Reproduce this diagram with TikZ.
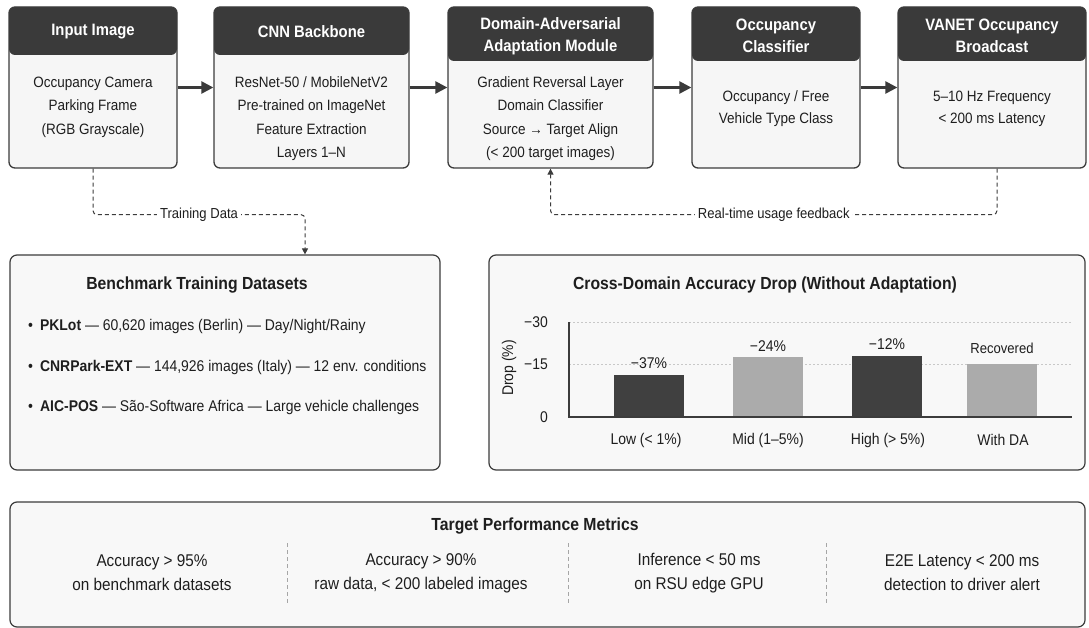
\documentclass[tikz,border=0pt]{standalone}
\usepackage{fontspec}
\setmainfont{Liberation Sans}[FakeStretch=0.9]
\usetikzlibrary{arrows.meta}
\definecolor{hdr}{HTML}{3A3A3A}
\definecolor{bodyf}{HTML}{F6F6F6}
\definecolor{bord}{HTML}{3C3C3C}
\definecolor{panelf}{HTML}{F8F8F8}
\definecolor{darkbar}{HTML}{404040}
\definecolor{lightbar}{HTML}{ABABAB}
\definecolor{gridc}{HTML}{C8C8C8}
\definecolor{txt}{HTML}{1E1E1E}
\begin{document}
\begin{tikzpicture}[x=1pt,y=-1pt,
  stage/.style={draw=bord, line width=1.3pt, fill=bodyf, rounded corners=6pt,
    minimum height=161pt, inner sep=0pt},
  hdrone/.style={path picture={\fill[hdr] (path picture bounding box.north west)
    rectangle ([yshift=-48pt]path picture bounding box.north east);}},
  hdrtwo/.style={path picture={\fill[hdr] (path picture bounding box.north west)
    rectangle ([yshift=-54pt]path picture bounding box.north east);}},
  htext/.style={text=white, align=center, inner sep=0pt,
    font=\bfseries\fontsize{16.5}{22}\selectfont},
  btext/.style={text=txt, align=center, inner sep=0pt,
    font=\fontsize{15}{23.5}\selectfont},
  flow/.style={line width=2.4pt, draw=hdr, -{Triangle[length=12pt,width=12pt]}},
  dconn/.style={line width=1pt, draw=bord, dash pattern=on 4pt off 3pt,
    rounded corners=4pt, -{Triangle[length=6pt,width=6pt]}},
  clabel/.style={fill=white, inner sep=3pt, text=txt, font=\fontsize{14.5}{16}\selectfont},
  panel/.style={draw=bord, line width=1.2pt, fill=panelf, rounded corners=7pt, inner sep=0pt},
  ttl/.style={text=txt, inner sep=0pt, font=\bfseries\fontsize{17.5}{20}\selectfont},
  bullet/.style={text=txt, anchor=west, inner sep=0pt, font=\fontsize{15.5}{18}\selectfont},
  tick/.style={text=txt, anchor=east, inner sep=0pt, font=\fontsize{15.5}{18}\selectfont},
  clab/.style={text=txt, inner sep=0pt, font=\fontsize{15.5}{18}\selectfont},
  axis/.style={line width=1.2pt, draw=bord},
  gridl/.style={line width=0.6pt, draw=gridc, dash pattern=on 2pt off 2pt},
  mtext/.style={text=txt, align=center, inner sep=0pt, font=\fontsize{17}{24}\selectfont},
  mdiv/.style={line width=0.8pt, draw=gray!70, dash pattern=on 4pt off 3pt}
]
\useasboundingbox (0,0) rectangle (1089,628);
\fill[white] (0,0) rectangle (1089,628);

% ---------- pipeline stages ----------
\node[stage, hdrone, minimum width=168pt] (b1) at (93,87.5) {};
\node[stage, hdrone, minimum width=195pt] (b2) at (311.5,87.5) {};
\node[stage, hdrtwo, minimum width=205pt] (b3) at (550.5,87.5) {};
\node[stage, hdrtwo, minimum width=168pt] (b4) at (776,87.5) {};
\node[stage, hdrtwo, minimum width=188pt] (b5) at (992,87.5) {};

\node[htext] (h1) at (93,32) {Input Image};
\node[htext] (h2) at (311.5,32) {CNN Backbone};
\node[htext] (h3) at (550.5,36) {Domain-Adversarial\\Adaptation Module};
\node[htext] (h4) at (776,36) {Occupancy\\Classifier};
\node[htext] (h5) at (992,36) {VANET Occupancy\\Broadcast};

\node[btext] (t1) at (93,107) {Occupancy Camera\\Parking Frame\\(RGB Grayscale)};
\node[btext] (t2) at (311.5,118.5) {ResNet-50 / MobileNetV2\\Pre-trained on ImageNet\\Feature Extraction\\Layers 1–N};
\node[btext] (t3) at (550.5,118.5) {Gradient Reversal Layer\\Domain Classifier\\Source → Target Align\\(< 200 target images)};
\node[btext, font=\fontsize{15}{22}\selectfont] (t4) at (776,109) {Occupancy / Free\\Vehicle Type Class};
\node[btext, font=\fontsize{15}{22}\selectfont] (t5) at (992,109) {5–10 Hz Frequency\\< 200 ms Latency};

\draw[flow] (b1) -- (b2);
\draw[flow] (b2) -- (b3);
\draw[flow] (b3) -- (b4);
\draw[flow] (b4) -- (b5);

% ---------- panels ----------
\node[panel, minimum width=430pt, minimum height=215pt] (bm) at (225,362.5) {};
\node[panel, minimum width=596pt, minimum height=215pt] (ch) at (787,362.5) {};
\node[panel, minimum width=1075pt, minimum height=125pt] (pm) at (547.5,564.5) {};

% ---------- dashed connectors ----------
\draw[dconn] (b1.south) -- ++(0,46)
  -| node[clabel, pos=0.25] (ltd) {Training Data} ([xshift=80pt]bm.north);
\draw[dconn] ([xshift=5pt]b5.south) -- ++(0,46)
  -| node[clabel, pos=0.25] (lfb) {Real-time usage feedback} (b3.south);

% ---------- benchmark datasets ----------
\node[ttl] (bmt) at (197,285) {Benchmark Training Datasets};
\node[bullet] (bl1) at (28,326) {•\hspace{7pt}\textbf{PKLot} — 60,620 images (Berlin) — Day/Night/Rainy};
\node[bullet] (bl2) at (28,367) {•\hspace{7pt}\textbf{CNRPark-EXT} — 144,926 images (Italy) — 12 env. conditions};
\node[bullet] (bl3) at (28,407) {•\hspace{7pt}\textbf{AIC-POS} — São-Software Africa — Large vehicle challenges};

% ---------- chart ----------
\node[ttl] (cht) at (765,285) {Cross-Domain Accuracy Drop (Without Adaptation)};
\draw[gridl] (569,322) -- (1072,322);
\draw[gridl] (569,364) -- (1072,364);
\fill[darkbar] (614,375) rectangle (684,417);
\fill[lightbar] (733,357) rectangle (803,417);
\fill[darkbar] (852,356) rectangle (922,417);
\fill[lightbar] (967,364) rectangle (1037,417);
\draw[axis] (569,322) -- (569,417) -- (1072,417);
\node[tick] (y30) at (548,322) {−30};
\node[tick] (y15) at (548,364) {−15};
\node[tick] (y0) at (548,417) {0};
\node[clab, rotate=90] (ylab) at (509,368) {Drop (\%)};
\node[clab] (v1) at (649,363) {−37\%};
\node[clab] (v2) at (768,346) {−24\%};
\node[clab] (v3) at (887,344) {−12\%};
\node[clab, font=\fontsize{14.5}{16}\selectfont] (v4) at (1002,348) {Recovered};
\node[clab] (c1) at (646,440) {Low (< 1\%)};
\node[clab] (c2) at (768,440) {Mid (1–5\%)};
\node[clab] (c3) at (888,440) {High (> 5\%)};
\node[clab] (c4) at (1003,440) {With DA};

% ---------- metrics ----------
\node[ttl] (pmt) at (535,526) {Target Performance Metrics};
\node[mtext] (m1) at (152,573) {Accuracy > 95\%\\on benchmark datasets};
\node[mtext] (m2) at (421,573) {Accuracy > 90\%\\raw data, < 200 labeled images};
\node[mtext] (m3) at (699,573) {Inference < 50 ms\\on RSU edge GPU};
\node[mtext] (m4) at (962,573) {E2E Latency < 200 ms\\detection to driver alert};
\draw[mdiv] (287,543) -- (287,603);
\draw[mdiv] (568,543) -- (568,603);
\draw[mdiv] (826,543) -- (826,603);
\end{tikzpicture}
\end{document}
